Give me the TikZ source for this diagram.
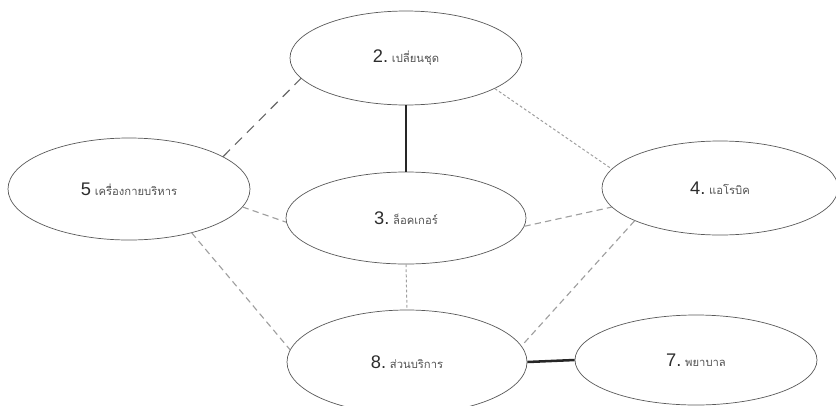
\documentclass[tikz,border=0pt]{standalone}
\usepackage{fontspec}
\setsansfont{Liberation Sans}
\newfontfamily\thaifont[Script=Thai]{Loma}
\usetikzlibrary{shapes.geometric}
\newcommand{\zonelabel}[2]{{\sffamily\fontsize{13}{14}\selectfont\color{gray!35!black}#1}{\thaifont\fontsize{8}{9}\selectfont\ #2}}

\begin{document}
\begin{tikzpicture}[
	every node/.style={ellipse, draw=gray!70!black, line width=0.5pt, inner sep=0pt, text=gray!65!black},
	zone/.style 2 args={minimum width=#1cm, minimum height=#2cm},
	heavylink/.style={draw=black!85, line width=1.8pt},
	longdash/.style={draw=gray!80!black, line width=0.8pt, dash pattern=on 7pt off 5pt},
	middash/.style={draw=gray!75, line width=0.8pt, dash pattern=on 4.5pt off 3pt},
	finedash/.style={draw=gray!75, line width=0.7pt, dash pattern=on 2pt off 1.6pt},
	]
	
	\useasboundingbox (0,0) rectangle (20.9,-10.125);
	
	\node[zone={5.8}{2.35}] (z2) at (10.15,-1.45) {\zonelabel{2.}{เปลี่ยนชุด}};
	\node[zone={6.05}{2.55}] (z5) at (3.225,-4.725) {\zonelabel{5}{เครื่องกายบริหาร}};
	\node[zone={6.0}{2.3}] (z3) at (10.15,-5.45) {\zonelabel{3.}{ล็อคเกอร์}};
	\node[zone={5.9}{2.35}] (z4) at (18.0,-4.7) {\zonelabel{4.}{แอโรบิค}};
	\node[zone={6.0}{2.6}] (z8) at (10.175,-9.05) {\zonelabel{8.}{ส่วนบริการ}};
	\node[zone={6.05}{2.25}] (z7) at (17.4,-9.0) {\zonelabel{7.}{พยาบาล}};
	
	\draw[heavylink] (z2.south) -- (z3.north);
	\draw[heavylink] (z8.east) -- (z7.west);
	\draw[longdash] (z5.19) -- (z2.191);
	\draw[finedash] (z2.-19) -- (z4.170);
	\draw[middash] (z5.-9) -- (z3.182);
	\draw[middash] (z3.-4) -- (z4.190);
	\draw[middash] (z5.-35) -- (z8.174);
	\draw[middash] (z4.201) -- (z8.8);
	\draw[finedash] (z3.south) -- (z8.north);
	
\end{tikzpicture}
\end{document}
